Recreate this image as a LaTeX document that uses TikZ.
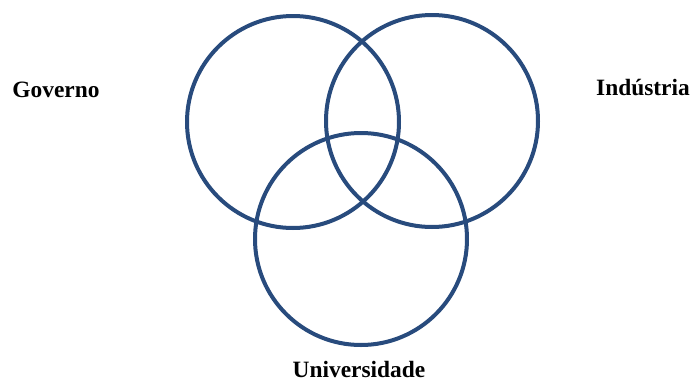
\documentclass[tikz,border=0pt]{standalone}
\usepackage{fontspec}
\setmainfont{Liberation Serif}
\usepackage{xcolor}
\definecolor{ringblue}{RGB}{40,75,125}

\begin{document}
\begin{tikzpicture}[
    x=1pt, y=-1pt,
    ring/.style={circle, draw=ringblue, line width=4pt, minimum size=212pt, inner sep=0pt},
    tag/.style={font=\fontsize{23.4}{27}\selectfont\bfseries, anchor=base, inner sep=0pt}
]
\useasboundingbox (0,0) rectangle (691,381);
% Helix circles
\node[ring] (gov) at (293,122) {};
\node[ring] (ind) at (432,121) {};
\node[ring] (uni) at (361,239) {};

% Labels
\node[tag] (govlabel) at (56,97) {Governo};
\node[tag] (indlabel) at (643,95) {Indústria};
\node[tag] (unilabel) at (359,377) {Universidade};
\end{tikzpicture}
\end{document}
